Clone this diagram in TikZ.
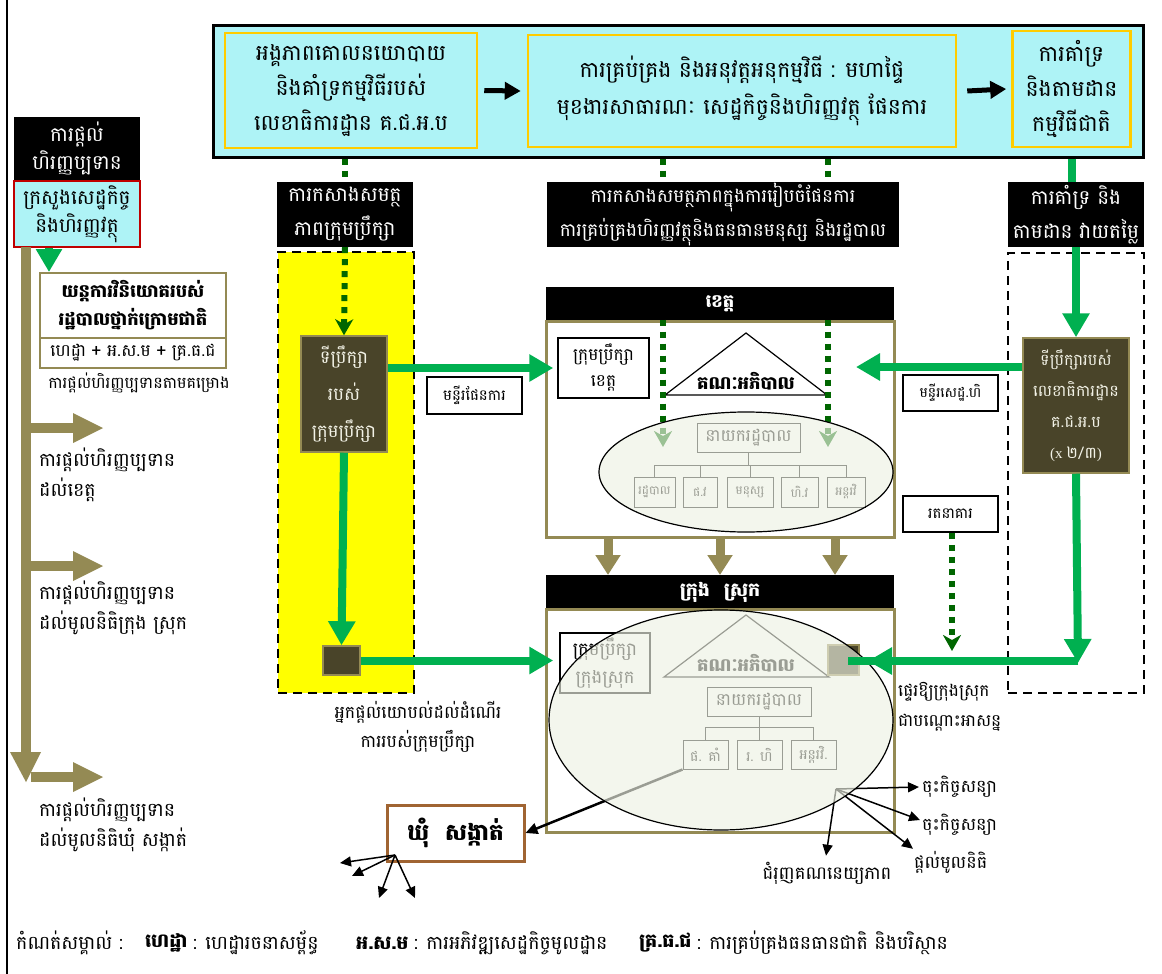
\documentclass[tikz,border=0pt]{standalone}
\usepackage{fontspec}
\setmainfont{Battambang}[Script=Khmer]
\usetikzlibrary{arrows.meta,calc}

\definecolor{skyfill}{RGB}{174,243,246}
\definecolor{goldline}{RGB}{255,204,0}
\definecolor{olivebar}{RGB}{148,138,84}
\definecolor{flowgreen}{RGB}{0,176,80}
\definecolor{dotgreen}{RGB}{0,102,0}
\definecolor{darkbox}{RGB}{73,68,41}
\definecolor{paletext}{RGB}{242,242,230}
\definecolor{brickline}{RGB}{160,100,50}
\definecolor{redline}{RGB}{192,0,0}
\definecolor{ovalfill}{RGB}{238,242,228}
\definecolor{sunyellow}{RGB}{255,255,0}

\newcommand\fsz[2]{\fontsize{#1}{#2}\selectfont}

\begin{document}
\begin{tikzpicture}[x=1pt,y=-1pt,
  blk/.style={fill=black, text=white, inner sep=0pt, align=center},
  plain/.style={draw=black, line width=1.5pt, fill=white, inner sep=0pt, align=center},
  topbox/.style={draw=goldline, line width=2.5pt, fill=skyfill, inner sep=0pt, align=center, font=\fsz{22}{35}},
  darkcell/.style={draw=olivebar, line width=1.5pt, fill=darkbox, text=paletext, inner sep=0pt, align=center},
  garrow/.style={draw=flowgreen, line width=8pt, -{Triangle[length=24pt,width=26pt]}},
  gline/.style={draw=flowgreen, line width=8pt},
  dotline/.style={draw=dotgreen, line width=6pt, dash pattern=on 6pt off 6pt},
  dotarrow/.style={dotline, -{Stealth[length=16pt,width=18pt,inset=5pt]}},
  oarrow/.style={draw=olivebar, line width=9pt, -{Triangle[length=20pt,width=24pt]}},
  karrow/.style={draw=black, line width=1.5pt, -{Triangle[length=11pt,width=10pt]}},
  orgbox/.style={draw=black, line width=1pt, fill=white, inner sep=0pt, align=center},
  orgline/.style={draw=black, line width=1pt},
  note/.style={inner sep=0pt, align=left},
  legendtxt/.style={inner sep=0pt, anchor=west, font=\fsz{19}{22}},
  legendkey/.style={legendtxt, font=\bfseries\fsz{19}{22}}
]
\useasboundingbox (0,0) rectangle (1162,974);
\fill[white] (0,0) rectangle (1162,974);
\draw[line width=2.5pt] (7,0) -- (7,974);

% ---------- top banner ----------
\node[draw=black, line width=3pt, fill=skyfill, minimum width=930, minimum height=131] (banner) at (678,91.5) {};
\node[topbox, minimum width=252, minimum height=115] (b1) at (351,90.5)
  {អង្គភាពគោលនយោបាយ\\និងគាំទ្រកម្មវិធីរបស់\\លេខាធិការដ្ឋាន គ.ជ.អ.ប};
\node[topbox, minimum width=428, minimum height=112, font=\fsz{22}{37}] (b2) at (742,91)
  {ការគ្រប់គ្រង និងអនុវត្តអនុកម្មវិធី : មហាផ្ទៃ\\មុខងារសាធារណៈ សេដ្ឋកិច្ចនិងហិរញ្ញវត្ថុ ផែនការ};
\node[topbox, minimum width=118, minimum height=116] (b3) at (1071.5,89)
  {ការគាំទ្រ\\និងតាមដាន\\កម្មវិធីជាតិ};
\draw[line width=5pt, -{Triangle[length=16pt,width=17pt]}] ([xshift=6]b1.east) -- ([xshift=-6]b2.west);
\draw[line width=5pt, -{Triangle[length=16pt,width=17pt]}] ([xshift=10]b2.east) -- ([xshift=-5]b3.west);

% ---------- capacity / support labels ----------
\node[blk, minimum width=136, minimum height=65, font=\fsz{20}{34}] (lblL) at (345,214.5)
  {ការកសាងសមត្ថ\\ភាពក្រុមប្រឹក្សា};
\node[blk, minimum width=352, minimum height=65, font=\fsz{18.5}{34}] (lblM) at (723,214.5)
  {ការកសាងសមត្ថភាពក្នុងការរៀបចំផែនការ\\ការគ្រប់គ្រងហិរញ្ញវត្ថុនិងធនធានមនុស្ស និងរដ្ឋបាល};
\node[blk, minimum width=136, minimum height=65, font=\fsz{20}{34}] (lblR) at (1076,214.5)
  {ការគាំទ្រ និង\\តាមដាន វាយតម្លៃ};

% ---------- financing column ----------
\node[blk, minimum width=126, minimum height=63, font=\fsz{20}{28}] (fundHead) at (77,148.5)
  {ការផ្តល់\\ហិរញ្ញប្បទាន};
\node[draw=redline, line width=2.5pt, fill=skyfill, inner sep=0pt, align=center,
      minimum width=126, minimum height=66, font=\fsz{20}{28}] (ministry) at (77,214)
  {ក្រសួងសេដ្ឋកិច្ច\\និងហិរញ្ញវត្ថុ};
\fill[olivebar] (21,247) rectangle (31,752);
\fill[olivebar] (10,752) -- (41,752) -- (26,782) -- cycle;
\foreach \yy in {428,566,777}{
  \fill[olivebar] (31,\yy-5) rectangle (73,\yy+5);
  \fill[olivebar] (73,\yy-15) -- (103,\yy) -- (73,\yy+15) -- cycle;
}
\node[draw=olivebar, line width=2pt, fill=white, inner sep=0pt, align=center,
      minimum width=186, minimum height=65, font=\bfseries\fsz{18}{28}] (invest) at (133,305.5)
  {យន្តការវិនិយោគរបស់\\រដ្ឋបាលថ្នាក់ក្រោមជាតិ};
\node[draw=olivebar, line width=2pt, fill=white, inner sep=0pt, align=center,
      minimum width=186, minimum height=30, font=\fsz{17}{20}] (formula) at (133,353)
  {ហេដ្ឋា + អ.ស.ម + គ្រ.ធ.ជ};
\draw[draw=flowgreen, line width=8pt, -{Triangle[length=23pt,width=25pt]}]
  ([xshift=-28]ministry.south) -- ([xshift=-84]invest.north);
\node[note, font=\fsz{16}{20}] (lblProj) at (139,383) {ការផ្តល់ហិរញ្ញប្បទានតាមគម្រោង};
\node[note, anchor=west, font=\fsz{19}{30}] (toKhet) at (39,475) {ការផ្តល់ហិរញ្ញប្បទាន\\ដល់ខេត្ត};
\node[note, anchor=west, font=\fsz{19}{30}] (toSrok) at (39,608) {ការផ្តល់ហិរញ្ញប្បទាន\\ដល់មូលនិធិក្រុង ស្រុក};
\node[note, anchor=west, font=\fsz{19}{30}] (toKhum) at (39,825) {ការផ្តល់ហិរញ្ញប្បទាន\\ដល់មូលនិធិឃុំ សង្កាត់};

% ---------- council advisers ----------
\node[fill=sunyellow, draw=black, line width=2.5pt, dash pattern=on 9pt off 6pt,
      minimum width=136, minimum height=441] (advZone) at (346,472.5) {};
\node[darkcell, minimum width=86, minimum height=116, font=\fsz{18}{37}] (advDark) at (344,394)
  {ទីប្រឹក្សា\\របស់\\ក្រុមប្រឹក្សា};
\node[darkcell, minimum width=37, minimum height=29] (advSq) at (341.5,660.5) {};
\draw[dotline] (lblL.north |- banner.south) -- (lblL.north);
\draw[dotarrow] (lblL.south) -- (advDark.north);
\draw[garrow] (advDark.south) -- (advSq.north);
\node[plain, minimum width=95, minimum height=37, font=\fsz{15}{20}] (planDept) at (474.5,395.5) {មន្ទីរផែនការ};
\node[note, align=center, font=\fsz{17.5}{29}] (advNote) at (418,727)
  {អ្នកផ្តល់យោបល់ដល់ដំណើរ\\ការរបស់ក្រុមប្រឹក្សា};

% ---------- province ----------
\node[blk, minimum width=348, minimum height=34, font=\bfseries\fsz{18}{20}] (khetHead) at (720,304) {ខេត្ត};
\node[draw=olivebar, line width=3pt, fill=white, minimum width=348, minimum height=216] (khetBox) at (720,429) {};
\node[plain, minimum width=91, minimum height=60, font=\fsz{17}{26}] (khetCouncil) at (603.5,368)
  {ក្រុមប្រឹក្សា\\ខេត្ត};
\draw[line width=1.2pt, fill=white] (746,333) -- (827,395) -- (665,395) -- cycle;
\node[inner sep=0pt, font=\bfseries\fsz{18}{20}] (khetGov) at (746,381) {គណៈអភិបាល};
\coordinate (dA) at (663,447);
\coordinate (dB) at (828,447);
\draw[dotline] (dA |- banner.south) -- (dA |- lblM.north);
\draw[dotline] (dB |- banner.south) -- (dB |- lblM.north);
\draw[dotarrow] (dA |- khetBox.north) -- (dA);
\draw[dotarrow] (dB |- khetBox.north) -- (dB);
\node[orgbox, minimum width=103, minimum height=29, font=\fsz{17}{18}] (kAdmin) at (748.5,437.5) {នាយករដ្ឋបាល};
\node[orgbox, minimum width=41, minimum height=30, font=\fsz{12}{14}] (kC1) at (654.5,492) {រដ្ឋបាល};
\node[orgbox, minimum width=34, minimum height=30, font=\fsz{12}{14}] (kC2) at (700,492) {ផ.វ};
\node[orgbox, minimum width=46, minimum height=30, font=\fsz{12}{14}] (kC3) at (750,492) {មនុស្ស};
\node[orgbox, minimum width=37, minimum height=30, font=\fsz{12}{14}] (kC4) at (799.5,492) {ហិ.វ};
\node[orgbox, minimum width=38, minimum height=30, font=\fsz{12}{14}] (kC5) at (846,492) {អន្តរវិ};
\coordinate (kBus) at (748.5,465);
\draw[orgline] (kAdmin.south) -- (kBus);
\draw[orgline] (kBus -| kC1.north) -- (kBus -| kC5.north);
\foreach \c in {kC1,kC2,kC3,kC4,kC5}{\draw[orgline] (kBus -| \c.north) -- (\c.north);}
\fill[ovalfill, opacity=0.65] (746,472) ellipse [x radius=147, y radius=60];
\draw[line width=1.2pt] (746,472) ellipse [x radius=147, y radius=60];

% ---------- district / municipality ----------
\node[blk, minimum width=348, minimum height=34, font=\bfseries\fsz{19}{20}] (srokHead) at (720,592) {ក្រុង\hspace{14pt}ស្រុក};
\node[draw=olivebar, line width=3pt, fill=white, minimum width=348, minimum height=223] (srokBox) at (720,720.5) {};
\foreach \xx in {608,720,835}{\draw[oarrow] (\xx,538) -- (\xx,575);}
\node[plain, minimum width=90, minimum height=60, font=\fsz{18}{28}] (srokCouncil) at (605,663)
  {ក្រុមប្រឹក្សា\\ក្រុងស្រុក};
\draw[line width=1.2pt, fill=white] (746,615) -- (829,677) -- (664,677) -- cycle;
\node[inner sep=0pt, font=\bfseries\fsz{18}{20}] (srokGov) at (746,663) {គណៈអភិបាល};
\node[orgbox, minimum width=104, minimum height=29, font=\fsz{17}{18}] (sAdmin) at (759,701.5) {នាយករដ្ឋបាល};
\node[orgbox, minimum width=45, minimum height=29, font=\fsz{14}{16}] (sC1) at (705.5,754.5) {ផ. គាំ};
\node[orgbox, minimum width=45, minimum height=29, font=\fsz{14}{16}] (sC2) at (759.5,754.5) {រ. ហិ};
\node[orgbox, minimum width=45, minimum height=29, font=\fsz{14}{16}] (sC3) at (813.5,754.5) {អន្តរវិ.};
\coordinate (sBus) at (759,727);
\draw[orgline] (sAdmin.south) -- (sBus);
\draw[orgline] (sBus -| sC1.north) -- (sBus -| sC3.north);
\foreach \c in {sC1,sC2,sC3}{\draw[orgline] (sBus -| \c.north) -- (\c.north);}
\node[darkcell, minimum width=31, minimum height=30] (srokSq) at (843.5,660) {};

% commune and the lines leaving the district
\node[draw=brickline, line width=3pt, fill=white, inner sep=0pt, minimum width=137, minimum height=56,
      font=\bfseries\fsz{23}{24}] (khum) at (455.5,833) {ឃុំ\hspace{16pt}សង្កាត់};
\draw[line width=2.5pt, -{Triangle[length=12pt,width=11pt]}] (sC1.south west) -- (khum.east);
\coordinate (fanO) at (836,789);
\node[note, anchor=west, font=\fsz{17.5}{20}] (contract1) at (922,787) {ចុះកិច្ចសន្យា};
\node[note, anchor=west, font=\fsz{17.5}{20}] (contract2) at (922,825) {ចុះកិច្ចសន្យា};
\node[note, anchor=west, font=\fsz{17.5}{20}] (fundGive) at (914,862) {ផ្តល់មូលនិធិ};
\node[note, font=\fsz{18}{20}] (account) at (827,873) {ជំរុញគណនេយ្យភាព};
\draw[karrow] (fanO) -- ([xshift=-3]contract1.west);
\draw[karrow] (fanO) -- ([xshift=-2,yshift=5]contract2.west);
\draw[karrow] (fanO) -- ([xshift=-1,yshift=2]fundGive.north west);
\draw[karrow] (fanO) -- ([xshift=-1,yshift=6]account.north);
\fill[ovalfill, opacity=0.65] (721,720) ellipse [x radius=172, y radius=110];
\draw[line width=1.2pt] (721,720) ellipse [x radius=172, y radius=110];

\coordinate (kO) at (395,855);
\coordinate (kT1) at (340,863);
\coordinate (kT2) at (352,876);
\coordinate (kT3) at (379,898);
\coordinate (kT4) at (415,898);
\foreach \t in {kT1,kT2,kT3,kT4}{\draw[karrow] (kO) -- (\t);}

% green flows into province and district
\draw[garrow] (advDark.east |- khetCouncil.west) -- ([xshift=-4]khetCouncil.west);
\draw[garrow] (advSq.east) -- ([xshift=-6]srokCouncil.west |- advSq.east);

% ---------- national support column ----------
\node[fill=none, draw=black, line width=2.5pt, dash pattern=on 9pt off 6pt,
      minimum width=136, minimum height=440] (supZone) at (1076,473) {};
\node[darkcell, minimum width=106, minimum height=135, font=\fsz{16}{31}] (rightDark) at (1076,405.5)
  {ទីប្រឹក្សារបស់\\លេខាធិការដ្ឋាន\\គ.ជ.អ.ប\\{\fontspec{Liberation Serif}\fsz{15}{31}(x }២/៣{\fontspec{Liberation Serif}\fsz{15}{31})}};
\draw[gline] (b3.south |- banner.south) -- (b3.south |- lblR.north);
\draw[garrow] (lblR.south) -- (rightDark.north);
\coordinate (khetIn) at (856,367);
\draw[garrow] (rightDark.west |- khetIn) -- (khetIn);
\node[plain, minimum width=95, minimum height=36, font=\fsz{14}{20}] (moneyDept) at (950.5,393) {មន្ទីរសេដ្ឋ.ហិ};
\node[plain, minimum width=95, minimum height=36, font=\fsz{15}{20}] (treasury) at (950.5,514) {រតនាគារ};
\coordinate (tIn) at (952,651);
\draw[dotarrow] (tIn |- treasury.south) -- (tIn);
\coordinate (rCorner) at (1078,661);
\coordinate (srokIn) at (868,661);
\draw[gline] (rCorner) -- ([xshift=-20]srokIn);
\draw[garrow] (rCorner) -- (srokIn);
\draw[garrow] (rightDark.south) -- ([yshift=-2]rCorner);
\node[note, anchor=west, font=\fsz{17}{30}] (transfer) at (898,707) {ផ្ទេរឱ្យក្រុងស្រុក\\ជាបណ្តោះអាសន្ន};

% ---------- legend ----------
\node[legendtxt] (legKey) at (16,943) {កំណត់សម្គាល់ :};
\node[legendkey] (legA) at (145,943) {ហេដ្ឋា};
\node[legendtxt] (legAt) at ([xshift=5]legA.east) {: ហេដ្ឋារចនាសម្ព័ន្ធ};
\node[legendkey] (legB) at (356,943) {អ.ស.ម};
\node[legendtxt] (legBt) at ([xshift=5]legB.east) {: ការអភិវឌ្ឍសេដ្ឋកិច្ចមូលដ្ឋាន};
\node[legendkey] (legC) at (639,943) {គ្រ.ធ.ជ};
\node[legendtxt] (legCt) at ([xshift=5]legC.east) {: ការគ្រប់គ្រងធនធានជាតិ និងបរិស្ថាន};
\end{tikzpicture}
\end{document}
